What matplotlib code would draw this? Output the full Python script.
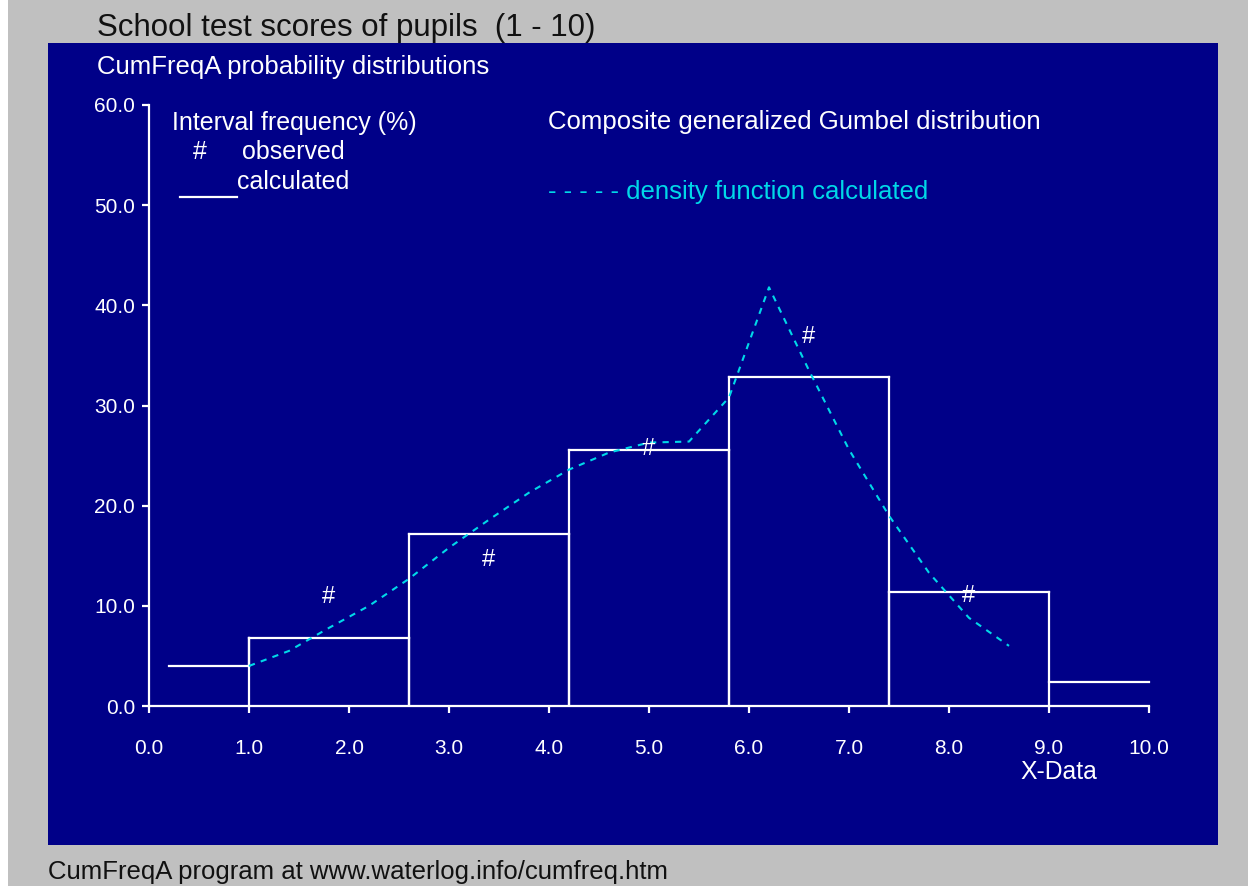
import matplotlib
matplotlib.use("Agg")
import matplotlib.pyplot as plt
from matplotlib.patches import Rectangle
from matplotlib.lines import Line2D

plt.rcParams['font.family'] = ['Liberation Sans', 'DejaVu Sans']

# Interval frequency histogram (%): bin edges and heights
bin_edges = [0.2, 1.0, 2.6, 4.2, 5.8, 7.4, 9.0, 10.0]
bin_freq = [4.0, 6.8, 17.2, 25.6, 32.8, 11.4, 2.4]

# Observed interval frequencies (#)
obs_x = [1.8, 3.4, 5.0, 6.6, 8.2]
obs_y = [10.9, 14.6, 25.7, 36.8, 11.0]

# Density function calculated (composite generalized Gumbel)
dens_x = [1.0, 1.4, 1.8, 2.2, 2.6, 3.0, 3.4, 3.8, 4.2, 4.6,
          5.0, 5.4, 5.8, 6.2, 6.6, 7.0, 7.4, 7.8, 8.2, 8.6]
dens_y = [4.0, 5.5, 7.8, 10.0, 12.7, 15.8, 18.6, 21.3, 23.6, 25.3,
          26.3, 26.4, 30.8, 41.8, 33.5, 25.6, 19.0, 13.3, 8.8, 6.0]

x_ticks = [0, 1, 2, 3, 4, 5, 6, 7, 8, 9, 10]
y_ticks = [0, 10, 20, 30, 40, 50, 60]

W, H = 1248, 886
fig = plt.figure(figsize=(W / 100, H / 100), dpi=100)
fig.patch.set_facecolor('#c0c0c0')

# white strip on the far left and navy panel
fig.add_artist(Rectangle((0, 0), 8 / W, 1, transform=fig.transFigure,
                         facecolor='white', edgecolor='none', zorder=0))
fig.add_artist(Rectangle((48 / W, (H - 845) / H), 1170 / W, 802 / H,
                         transform=fig.transFigure, facecolor='#000088',
                         edgecolor='none', zorder=0))

ax = fig.add_axes([149 / W, (H - 706) / H, 1000 / W, 601 / H])
ax.set_facecolor('none')
ax.set_xlim(0, 10)
ax.set_ylim(0, 60)
for side in ('top', 'right'):
    ax.spines[side].set_visible(False)
for side in ('left', 'bottom'):
    ax.spines[side].set_color('white')
    ax.spines[side].set_linewidth(1.6)
ax.set_xticks(x_ticks)
ax.set_yticks(y_ticks)
ax.set_xticklabels([f"{v:.1f}" for v in x_ticks])
ax.set_yticklabels([f"{v:.1f}" for v in y_ticks])
ax.tick_params(colors='white', length=5, width=1.6, labelsize=15)
ax.tick_params(axis='x', pad=19)
ax.tick_params(axis='y', pad=5)

# histogram: boxes for inner bins, plain levels for the outer ones
lw = 1.6
n = len(bin_freq)
for i, h in enumerate(bin_freq):
    x0, x1 = bin_edges[i], bin_edges[i + 1]
    ax.plot([x0, x1], [h, h], color='white', lw=lw, clip_on=False)
    if 0 < i < n - 1:
        ax.plot([x0, x0], [0, h], color='white', lw=lw)
        ax.plot([x1, x1], [0, h], color='white', lw=lw)
ax.plot([bin_edges[1], bin_edges[1]], [bin_freq[0], bin_freq[1]], color='white', lw=lw)

# observed markers
for x, y in zip(obs_x, obs_y):
    ax.text(x, y, '#', color='white', fontsize=17, ha='center', va='center')

# calculated density
ax.plot(dens_x, dens_y, color='#00d8e8', lw=1.5, linestyle=(0, (3, 3)))

# texts on the panel
def ftext(px, py, s, **kw):
    fig.text(px / W, 1 - py / H, s, **kw)

ftext(97, 28, 'School test scores of pupils  (1 - 10)', fontsize=22.5,
      color='#111111', va='center')
ftext(97, 67, 'CumFreqA probability distributions', fontsize=18.5,
      color='white', va='center')
ftext(172, 123, 'Interval frequency (%)', fontsize=18, color='white', va='center')
ftext(193, 152, '#', fontsize=18, color='white', va='center')
ftext(242, 152, 'observed', fontsize=18, color='white', va='center')
ftext(237, 182, 'calculated', fontsize=18, color='white', va='center')
fig.add_artist(Line2D([180 / W, 237 / W], [1 - 197 / H, 1 - 197 / H],
                      transform=fig.transFigure, color='white', lw=1.6))
ftext(548, 122, 'Composite generalized Gumbel distribution', fontsize=18.5,
      color='white', va='center')
ftext(548, 192, '- - - - - density function calculated', fontsize=18.5,
      color='#00d8e8', va='center')
ftext(1020, 772, 'X-Data', fontsize=17.8, color='white', va='center')
ftext(48, 872, 'CumFreqA program at www.waterlog.info/cumfreq.htm',
      fontsize=18.5, color='#111111', va='center')

fig.savefig('out.png', dpi=100, facecolor=fig.get_facecolor())
